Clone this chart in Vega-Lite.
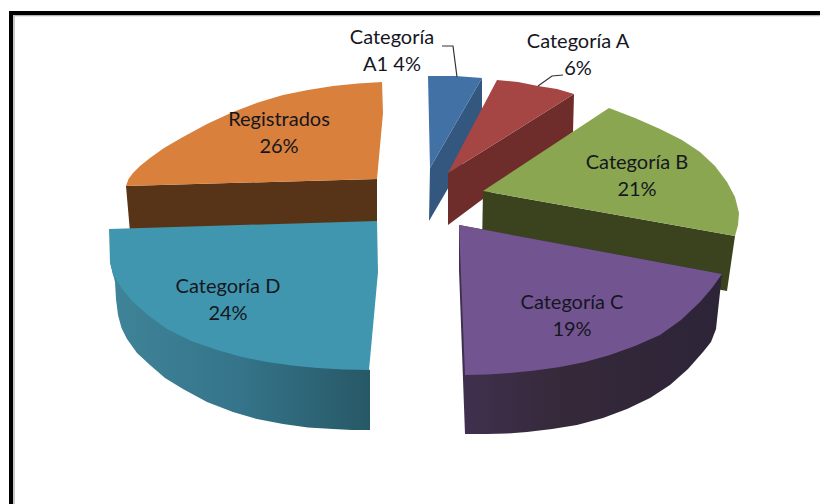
{"$schema":"https://vega.github.io/schema/vega-lite/v6.json","width":820,"height":504,"padding":0,"autosize":{"type":"none"},"background":"#ffffff","view":{"stroke":null},
"datasets":{
"outline":[
{"piece":"A1 side","n":1,"x":482,"y":78},{"piece":"A1 side","n":2,"x":482,"y":130},{"piece":"A1 side","n":3,"x":429,"y":221},{"piece":"A1 side","n":4,"x":430,"y":168},
{"piece":"A1 top","n":1,"x":428,"y":76},{"piece":"A1 top","n":2,"x":455,"y":76},{"piece":"A1 top","n":3,"x":482,"y":78},{"piece":"A1 top","n":4,"x":430,"y":168},
{"piece":"A side","n":1,"x":574,"y":94},{"piece":"A side","n":2,"x":573,"y":132},{"piece":"A side","n":3,"x":448,"y":225},{"piece":"A side","n":4,"x":448,"y":173},
{"piece":"A top","n":1,"x":497,"y":80},{"piece":"A top","n":2,"x":518,"y":82},{"piece":"A top","n":3,"x":538,"y":86},{"piece":"A top","n":4,"x":557,"y":89},{"piece":"A top","n":5,"x":574,"y":94},{"piece":"A top","n":6,"x":448,"y":173},
{"piece":"B side","n":1,"x":483,"y":191},{"piece":"B side","n":2,"x":735,"y":236},{"piece":"B side","n":3,"x":727,"y":291},{"piece":"B side","n":4,"x":482,"y":247},
{"piece":"B top","n":1,"x":483,"y":191},{"piece":"B top","n":2,"x":609,"y":108},{"piece":"B top","n":3,"x":635,"y":118},{"piece":"B top","n":4,"x":660,"y":129},{"piece":"B top","n":5,"x":682,"y":140},{"piece":"B top","n":6,"x":700,"y":152},{"piece":"B top","n":7,"x":715,"y":166},{"piece":"B top","n":8,"x":727,"y":182},{"piece":"B top","n":9,"x":735,"y":197},{"piece":"B top","n":10,"x":739,"y":213},{"piece":"B top","n":11,"x":738,"y":225},{"piece":"B top","n":12,"x":735,"y":236},
{"piece":"Reg side","n":1,"x":126,"y":186},{"piece":"Reg side","n":2,"x":377,"y":179},{"piece":"Reg side","n":3,"x":377,"y":225},{"piece":"Reg side","n":4,"x":130,"y":232},
{"piece":"Reg top","n":1,"x":382,"y":82},{"piece":"Reg top","n":2,"x":358,"y":83.5},{"piece":"Reg top","n":3,"x":333,"y":86},{"piece":"Reg top","n":4,"x":308,"y":90},{"piece":"Reg top","n":5,"x":283,"y":95},{"piece":"Reg top","n":6,"x":258,"y":102.5},{"piece":"Reg top","n":7,"x":233,"y":112},{"piece":"Reg top","n":8,"x":207,"y":124},{"piece":"Reg top","n":9,"x":183,"y":137},{"piece":"Reg top","n":10,"x":164,"y":148},{"piece":"Reg top","n":11,"x":150,"y":158},{"piece":"Reg top","n":12,"x":140,"y":166},{"piece":"Reg top","n":13,"x":133,"y":173},{"piece":"Reg top","n":14,"x":128.5,"y":179},{"piece":"Reg top","n":15,"x":126,"y":186},{"piece":"Reg top","n":16,"x":377,"y":179},{"piece":"Reg top","n":17,"x":383,"y":113},
{"piece":"D side","n":1,"x":110,"y":262},{"piece":"D side","n":2,"x":115,"y":282},{"piece":"D side","n":3,"x":116,"y":299},{"piece":"D side","n":4,"x":118,"y":315},{"piece":"D side","n":5,"x":121.5,"y":328},{"piece":"D side","n":6,"x":127,"y":339},{"piece":"D side","n":7,"x":137,"y":353},{"piece":"D side","n":8,"x":150,"y":365},{"piece":"D side","n":9,"x":165,"y":378},{"piece":"D side","n":10,"x":183,"y":389},{"piece":"D side","n":11,"x":207,"y":402},{"piece":"D side","n":12,"x":233,"y":412},{"piece":"D side","n":13,"x":257,"y":419},{"piece":"D side","n":14,"x":283,"y":424},{"piece":"D side","n":15,"x":308,"y":427.5},{"piece":"D side","n":16,"x":333,"y":429},{"piece":"D side","n":17,"x":352,"y":430},{"piece":"D side","n":18,"x":370,"y":430},{"piece":"D side","n":19,"x":370,"y":370},
{"piece":"D top","n":1,"x":109,"y":229},{"piece":"D top","n":2,"x":377,"y":221},{"piece":"D top","n":3,"x":378,"y":272},{"piece":"D top","n":4,"x":369,"y":370},{"piece":"D top","n":5,"x":343,"y":369.6},{"piece":"D top","n":6,"x":317,"y":368},{"piece":"D top","n":7,"x":292,"y":365.5},{"piece":"D top","n":8,"x":267,"y":362},{"piece":"D top","n":9,"x":242,"y":357},{"piece":"D top","n":10,"x":217,"y":350},{"piece":"D top","n":11,"x":191,"y":341},{"piece":"D top","n":12,"x":167,"y":329},{"piece":"D top","n":13,"x":149,"y":316},{"piece":"D top","n":14,"x":133,"y":302},{"piece":"D top","n":15,"x":122,"y":289},{"piece":"D top","n":16,"x":113,"y":275},{"piece":"D top","n":17,"x":110,"y":262},
{"piece":"C side","n":1,"x":722,"y":274},{"piece":"C side","n":2,"x":716,"y":329},{"piece":"C side","n":3,"x":711,"y":342},{"piece":"C side","n":4,"x":703,"y":352},{"piece":"C side","n":5,"x":688,"y":369},{"piece":"C side","n":6,"x":670,"y":385},{"piece":"C side","n":7,"x":650,"y":398},{"piece":"C side","n":8,"x":627,"y":409},{"piece":"C side","n":9,"x":603,"y":418},{"piece":"C side","n":10,"x":577,"y":425},{"piece":"C side","n":11,"x":552,"y":429},{"piece":"C side","n":12,"x":527,"y":432},{"piece":"C side","n":13,"x":507,"y":433.5},{"piece":"C side","n":14,"x":487,"y":434},{"piece":"C side","n":15,"x":465,"y":434},{"piece":"C side","n":16,"x":459,"y":270},{"piece":"C side","n":17,"x":459,"y":225},
{"piece":"C top","n":1,"x":459,"y":225},{"piece":"C top","n":2,"x":722,"y":274},{"piece":"C top","n":3,"x":712,"y":288},{"piece":"C top","n":4,"x":700,"y":302},{"piece":"C top","n":5,"x":681,"y":320},{"piece":"C top","n":6,"x":660,"y":335},{"piece":"C top","n":7,"x":635,"y":346},{"piece":"C top","n":8,"x":610,"y":355},{"piece":"C top","n":9,"x":585,"y":362},{"piece":"C top","n":10,"x":560,"y":367},{"piece":"C top","n":11,"x":535,"y":370.5},{"piece":"C top","n":12,"x":510,"y":373},{"piece":"C top","n":13,"x":487,"y":374.5},{"piece":"C top","n":14,"x":465,"y":375}
],
"guides":[
{"line":"frame top","n":1,"x":9,"y":13},{"line":"frame top","n":2,"x":820,"y":13},
{"line":"frame left","n":1,"x":11,"y":11},{"line":"frame left","n":2,"x":11,"y":504},
{"line":"leader A1","n":1,"x":442,"y":46},{"line":"leader A1","n":2,"x":453,"y":46},{"line":"leader A1","n":3,"x":457,"y":77},
{"line":"leader A","n":1,"x":538,"y":86},{"line":"leader A","n":2,"x":552,"y":76},{"line":"leader A","n":3,"x":563,"y":75}
],
"inner":[
{"line":"inner top","n":1,"x":14,"y":15.5},{"line":"inner top","n":2,"x":820,"y":15.5},
{"line":"inner left","n":1,"x":14,"y":15},{"line":"inner left","n":2,"x":14,"y":504}
],
"labels":[
{"label":"Categoría\nA1 4%","x":392,"y":38},
{"label":"Categoría A\n6%","x":578,"y":42},
{"label":"Categoría B\n21%","x":637,"y":163},
{"label":"Categoría C\n19%","x":572,"y":303},
{"label":"Categoría D\n24%","x":228,"y":287},
{"label":"Registrados\n26%","x":279,"y":120}
]},
"layer":[
{"data":{"name":"inner"},"mark":{"type":"line","stroke":"#b5b5b5","strokeWidth":1.5},"encoding":{"x":{"field":"x","type":"quantitative","scale":{"domain":[0,820],"nice":false},"axis":null},"y":{"field":"y","type":"quantitative","scale":{"domain":[504,0],"nice":false},"axis":null},"detail":{"field":"line"},"order":{"field":"n"}}},
{"data":{"name":"guides"},"transform":[{"filter":"indexof(datum.line,'frame')==0"}],"mark":{"type":"line","stroke":"#000000","strokeWidth":4},"encoding":{"x":{"field":"x","type":"quantitative","axis":null},"y":{"field":"y","type":"quantitative","axis":null},"detail":{"field":"line"},"order":{"field":"n"}}},
{"data":{"name":"outline"},"transform":[{"filter":"indexof(['A1 side','A1 top','A side','A top','B side','B top','Reg side','Reg top'],datum.piece)>=0"}],"mark":{"type":"line","filled":true,"strokeWidth":0},"encoding":{"x":{"field":"x","type":"quantitative","axis":null},"y":{"field":"y","type":"quantitative","axis":null},"detail":{"field":"piece"},"order":{"field":"n"},"fill":{"field":"piece","type":"nominal","legend":null,"scale":{"domain":["A1 side","A1 top","A side","A top","B side","B top","Reg side","Reg top"],"range":["#34577f","#4271a6","#6e2d2b","#a64644","#3a431e","#8aa650","#573417","#d8803c"]}}}},
{"data":{"name":"outline"},"transform":[{"filter":"datum.piece=='D side'"}],"mark":{"type":"line","filled":true,"strokeWidth":0,"fill":{"x1":0,"y1":0,"x2":1,"y2":0,"gradient":"linear","stops":[{"offset":0,"color":"#3f8498"},{"offset":0.5,"color":"#35748a"},{"offset":1,"color":"#275866"}]}},"encoding":{"x":{"field":"x","type":"quantitative","axis":null},"y":{"field":"y","type":"quantitative","axis":null},"order":{"field":"n"}}},
{"data":{"name":"outline"},"transform":[{"filter":"datum.piece=='D top'"}],"mark":{"type":"line","filled":true,"strokeWidth":0,"fill":"#3f96ae"},"encoding":{"x":{"field":"x","type":"quantitative","axis":null},"y":{"field":"y","type":"quantitative","axis":null},"order":{"field":"n"}}},
{"data":{"name":"outline"},"transform":[{"filter":"datum.piece=='C side'"}],"mark":{"type":"line","filled":true,"strokeWidth":0,"fill":{"x1":0,"y1":0,"x2":1,"y2":0,"gradient":"linear","stops":[{"offset":0,"color":"#40304f"},{"offset":0.4,"color":"#352939"},{"offset":1,"color":"#2d2438"}]}},"encoding":{"x":{"field":"x","type":"quantitative","axis":null},"y":{"field":"y","type":"quantitative","axis":null},"order":{"field":"n"}}},
{"data":{"name":"outline"},"transform":[{"filter":"datum.piece=='C top'"}],"mark":{"type":"line","filled":true,"strokeWidth":0,"fill":"#725490"},"encoding":{"x":{"field":"x","type":"quantitative","axis":null},"y":{"field":"y","type":"quantitative","axis":null},"order":{"field":"n"}}},
{"data":{"name":"guides"},"transform":[{"filter":"indexof(datum.line,'leader')==0"}],"mark":{"type":"line","stroke":"#333333","strokeWidth":1.2},"encoding":{"x":{"field":"x","type":"quantitative","axis":null},"y":{"field":"y","type":"quantitative","axis":null},"detail":{"field":"line"},"order":{"field":"n"}}},
{"data":{"name":"labels"},"mark":{"type":"text","font":"Lato","fontSize":20,"lineHeight":27,"lineBreak":"\n","align":"center","baseline":"middle","fill":"#16161f"},"encoding":{"x":{"field":"x","type":"quantitative","axis":null},"y":{"field":"y","type":"quantitative","axis":null},"text":{"field":"label"}}}
]}
